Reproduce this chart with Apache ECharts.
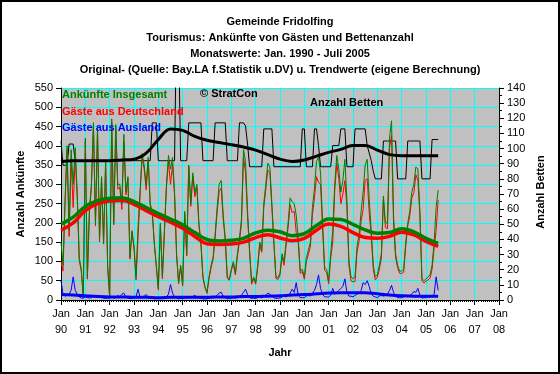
<!DOCTYPE html>
<html><head><meta charset="utf-8">
<script src="https://cdn.jsdelivr.net/npm/echarts@6/dist/echarts.min.js"></script>
<style>html,body{margin:0;padding:0;background:#fff}#c{width:560px;height:374px}</style>
</head><body><div id="c"></div>
<script>
// ---- Data (monthly, Jan 1990 .. Jul 2005) ----
const yearLabels = ['90','91','92','93','94','95','96','97','98','99','00','01','02','03','04','05','06','07','08'];
const titleLines = [
  'Gemeinde Fridolfing',
  'Tourismus: Ankünfte von Gästen und Bettenanzahl',
  'Monatswerte: Jan. 1990 - Juli 2005',
  'Original- (Quelle: Bay.LA f.Statistik u.DV) u. Trendwerte (eigene Berechnung)'
];
const totalArrivals = [
  150,90,260,400,180,390,300,395,280,110,80,10,
  420,60,230,300,460,200,450,160,320,150,360,90,
  10,470,200,455,300,300,250,430,280,320,110,180,
  140,60,190,280,380,350,300,370,250,230,150,90,
  30,200,60,180,300,375,340,370,280,120,45,90,
  40,230,120,350,250,330,280,300,200,150,60,35,
  20,60,90,110,170,240,300,310,220,160,60,55,
  80,100,70,120,160,210,390,360,230,130,45,60,
  45,90,150,130,250,300,355,345,250,150,60,58,
  70,120,100,150,200,265,255,250,220,160,75,80,
  60,110,130,150,240,290,360,370,330,200,85,80,
  50,120,180,300,375,340,280,310,365,260,100,60,
  55,60,140,170,230,280,350,365,260,180,90,60,
  65,90,120,270,200,200,420,465,220,120,90,75,
  75,80,150,200,230,280,300,345,340,230,55,50,
  55,60,65,90,150,240,285
];
const germanGuests = [
  100,75,250,388,165,365,240,370,265,102,75,5,
  412,54,225,294,450,192,438,151,314,145,356,85,
  5,462,195,449,288,292,235,412,273,315,106,176,
  134,52,162,274,372,340,286,361,244,225,147,86,
  26,194,55,175,292,360,300,352,272,115,42,86,
  37,225,114,345,243,321,268,292,194,145,57,32,
  17,55,84,105,162,228,282,290,210,154,57,51,
  76,94,65,114,152,198,370,332,216,124,41,55,
  41,84,142,124,240,288,337,330,240,144,56,53,
  65,112,90,142,188,247,227,230,175,148,69,74,
  54,100,118,140,222,265,320,305,300,185,77,72,
  42,108,150,285,355,315,250,275,310,240,90,50,
  47,48,125,152,205,235,310,315,225,165,80,52,
  59,80,108,260,188,185,395,427,200,110,84,69,
  69,72,140,192,218,265,278,325,310,218,50,44,
  49,52,57,80,135,180,260
];
const foreignGuests = [
  50,15,10,12,15,25,60,25,15,8,5,5,
  8,6,5,6,10,8,12,9,6,5,4,5,
  5,8,5,6,12,8,15,18,7,5,4,4,
  6,8,28,6,8,10,14,9,6,5,3,4,
  4,6,5,5,8,15,40,18,8,5,3,4,
  3,5,6,5,7,9,12,8,6,5,3,3,
  3,5,6,5,8,12,18,20,10,6,3,4,
  4,6,5,6,8,12,20,28,14,6,4,5,
  4,6,8,6,10,12,18,15,10,6,4,5,
  5,8,10,8,12,18,28,20,45,12,6,6,
  6,10,12,10,18,25,40,65,30,15,8,8,
  8,12,30,15,20,25,30,35,55,20,10,10,
  8,12,15,18,25,45,40,50,35,15,10,8,
  6,10,12,10,12,15,25,38,20,10,6,6,
  6,8,10,8,12,15,22,20,30,12,5,6,
  6,8,8,10,15,60,25
];
const beds = [
  105,89,89,89,103,103,103,92,92,92,92,92,
  92,92,92,92,92,92,92,92,92,92,92,92,
  92,92,92,92,92,92,92,92,92,92,92,92,
  92,92,92,92,92,92,92,92,92,117,117,117,
  92,92,92,92,92,92,92,92,92,190,175,92,
  92,92,92,117,117,117,117,117,117,117,92,92,
  92,92,92,92,117,117,117,117,117,117,92,92,
  92,92,92,92,117,117,117,115,103,88,88,88,
  88,88,88,88,113,113,113,113,113,88,88,88,
  88,88,88,88,88,88,88,88,88,88,88,113,
  113,88,88,88,88,113,113,102,88,88,88,88,
  88,88,102,102,102,102,113,113,113,88,88,88,
  88,113,113,113,113,113,113,102,97,92,85,80,
  80,80,80,105,105,105,105,105,105,105,80,80,
  80,80,80,105,105,105,105,105,105,105,80,80,
  80,80,80,106,106,106,106
];
// trend values, every 6 months (month index since Jan 1990)
const trendMonths = [0,6,12,18,24,30,36,42,48,54,60,66,72,78,84,90,96,102,108,114,120,126,132,138,144,150,156,162,168,174,180,186];
const trendTotal  = [197,215,243,258,264,265,255,240,224,210,195,175,157,153,155,160,174,181,177,167,172,193,210,209,196,182,173,175,185,177,160,147];
const trendGerman = [181,200,232,250,257,258,248,232,216,202,186,165,146,144,145,150,162,169,161,154,160,181,197,191,175,162,160,165,176,169,152,139];
const trendForeign= [14,13,11,9,8,8,7,7,6,7,7,7,7,8,8,9,9,10,11,13,14,16,18,19,19,19,16,13,11,10,10,10];
const trendBeds   = [91.5,92,92,92,92,92.5,93,97,106,113,112,108,105.5,104,102.5,101,99,96,93,91.5,92.5,95,97.5,99.5,102,102,99,96,95.3,95.3,95.3,95.3];

const FONT = 'Liberation Sans, Arial, sans-serif';
const monthly = arr => arr.map((v, i) => [i, v]);
const trend = arr => trendMonths.map((m, i) => [m, arr[i]]);
const thin = (name, data, color, yi) => ({
  name, type: 'line', data, yAxisIndex: yi || 0, symbol: 'none', showSymbol: false,
  lineStyle: { color, width: 1 }, clip: true, silent: true
});
const thick = (name, data, color, w, yi) => ({
  name, type: 'line', data, yAxisIndex: yi || 0, symbol: 'none', showSymbol: false, smooth: 0.4,
  lineStyle: { color, width: w }, clip: true, silent: true
});

const chart = echarts.init(document.getElementById('c'), null, { renderer: 'canvas' });
chart.setOption({
  animation: false,
  backgroundColor: '#ffffff',
  textStyle: { fontFamily: FONT },
  title: {
    text: titleLines.join('\n'), left: 'center', top: 14, padding: 0,
    textStyle: { fontFamily: FONT, fontSize: 11, fontWeight: 'bold', lineHeight: 16, color: '#000' }
  },
  grid: { left: 61, right: 61, top: 88, bottom: 74, show: true, backgroundColor: '#C0C0C0', borderWidth: 0 },
  xAxis: {
    type: 'value', min: 0, max: 216, interval: 12,
    axisLine: { lineStyle: { color: '#000', width: 1 } },
    axisTick: { length: 5, lineStyle: { color: '#000' } },
    minorTick: { show: true, splitNumber: 12, length: 2, lineStyle: { color: '#000' } },
    splitLine: { show: true, lineStyle: { color: '#00FFFF', width: 1 } },
    axisLabel: {
      color: '#000', fontSize: 11, fontFamily: FONT, lineHeight: 16, margin: 6,
      formatter: v => 'Jan\n' + yearLabels[Math.round(v / 12)]
    },
    name: 'Jahr', nameLocation: 'middle', nameGap: 47,
    nameTextStyle: { color: '#000', fontSize: 11, fontWeight: 'bold', fontFamily: FONT }
  },
  yAxis: [
    {
      type: 'value', min: 0, max: 550, interval: 50, position: 'left',
      axisLine: { show: true, lineStyle: { color: '#000' } },
      axisTick: { show: true, length: 5, lineStyle: { color: '#000' } },
      splitLine: { show: true, lineStyle: { color: '#00FFFF', width: 1 } },
      axisLabel: { color: '#000', fontSize: 11, fontFamily: FONT, margin: 8 }
    },
    {
      type: 'value', min: 0, max: 140, interval: 10, position: 'right',
      axisLine: { show: true, lineStyle: { color: '#000' } },
      axisTick: { show: true, length: 5, lineStyle: { color: '#000' } },
      minorTick: { show: true, splitNumber: 2, length: 3, lineStyle: { color: '#000' } },
      splitLine: { show: false },
      axisLabel: { color: '#000', fontSize: 11, fontFamily: FONT, margin: 8 }
    }
  ],
  series: [
    thin('Anzahl Betten', monthly(beds), '#000000', 1),
    thin('Gäste aus Deutschland', monthly(germanGuests), '#FF0000'),
    thin('Ankünfte Insgesamt', monthly(totalArrivals), '#008000'),
    thin('Gäste aus Ausland', monthly(foreignGuests), '#0000FF'),
    thick('Trend Betten', trend(trendBeds), '#000000', 3, 1),
    thick('Trend Deutschland', trend(trendGerman), '#FF0000', 3.5),
    thick('Trend Insgesamt', trend(trendTotal), '#008000', 3.5),
    thick('Trend Ausland', trend(trendForeign), '#0000FF', 3)
  ],
  graphic: [
    { type: 'rect', shape: { x: 1, y: 1, width: 558, height: 372 }, style: { fill: 'none', stroke: '#000', lineWidth: 2 }, silent: true, z: 100 },
    { type: 'text', x: 62, y: 95, z: 100, style: { text: 'Ankünfte Insgesamt', fill: '#008000', font: 'bold 11px ' + FONT, align: 'left', verticalAlign: 'middle' } },
    { type: 'text', x: 62, y: 112, z: 100, style: { text: 'Gäste aus Deutschland', fill: '#FF0000', font: 'bold 11px ' + FONT, align: 'left', verticalAlign: 'middle' } },
    { type: 'text', x: 62, y: 128, z: 100, style: { text: 'Gäste aus Ausland', fill: '#0000FF', font: 'bold 11px ' + FONT, align: 'left', verticalAlign: 'middle' } },
    { type: 'text', x: 200, y: 94, z: 100, style: { text: '© StratCon', fill: '#000', font: 'bold 11px ' + FONT, align: 'left', verticalAlign: 'middle' } },
    { type: 'text', x: 310, y: 103, z: 100, style: { text: 'Anzahl Betten', fill: '#000', font: 'bold 11px ' + FONT, align: 'left', verticalAlign: 'middle' } },
    { type: 'text', x: 21, y: 194, rotation: Math.PI / 2, z: 100, style: { text: 'Anzahl Ankünfte', fill: '#000', font: 'bold 11px ' + FONT, align: 'center', verticalAlign: 'middle' } },
    { type: 'text', x: 541, y: 192, rotation: Math.PI / 2, z: 100, style: { text: 'Anzahl Betten', fill: '#000', font: 'bold 11px ' + FONT, align: 'center', verticalAlign: 'middle' } }
  ]
});
</script></body></html>
